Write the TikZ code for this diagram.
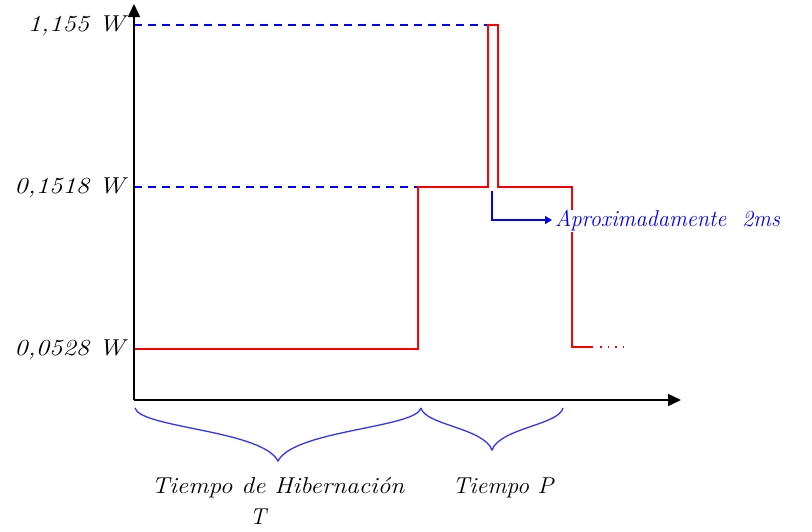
\documentclass[tikz,border=0pt]{standalone}
\usepackage{fontspec}
\usetikzlibrary{arrows.meta}
\begin{document}
\begin{tikzpicture}[x=1pt,y=-1pt,
  axis/.style={line width=1.6pt,-{Triangle[length=13pt,width=12pt]}},
  level/.style={blue,line width=1.6pt,dash pattern=on 8pt off 6pt},
  signal/.style={red,line width=1.4pt},
  brc/.style={blue!80!white,line width=1.3pt},
  lbl/.style={font=\fontsize{23}{26}\selectfont\itshape,inner sep=1pt},
  note/.style={font=\fontsize{23}{26}\selectfont\itshape,text=blue,fill=white,inner sep=1pt}]
\useasboundingbox (0,0) rectangle (812,531);
% origin and axes
\coordinate (O) at (134,400);
\coordinate (Ytop) at (134,4);
\coordinate (Xend) at (681,400);
% levels
\coordinate (Lhi) at (134,25);
\coordinate (Lmid) at (134,187);
\coordinate (Llo) at (134,349);
% signal corners
\coordinate (s1) at (418,349);
\coordinate (s2) at (418,187);
\coordinate (s3) at (488,187);
\coordinate (s4) at (488,25);
\coordinate (s5) at (498,25);
\coordinate (s6) at (498,187);
\coordinate (s7) at (572,187);
\coordinate (s8) at (572,347);
\coordinate (s9) at (593,347);
\coordinate (s10) at (626,347);
% dashed guides
\draw[level] (Lhi) -- (s4);
\draw[level] (Lmid) -- (s2);
% signal
\draw[signal] (Llo) -- (s1) -- (s2) -- (s3) -- (s4) -- (s5) -- (s6) -- (s7) -- (s8) -- (s9);
\draw[red,line width=1.4pt,dash pattern=on 1.5pt off 6pt] (600,347) -- (s10);
% annotation
\coordinate (a0) at (492,191);
\coordinate (a1) at (492,220);
\coordinate (a2) at (552,220);
\node[note,anchor=west,xscale=0.97] (apx) at (554,221) {Aproximadamente\ \ 2ms};
\draw[blue,line width=1.4pt,-{Triangle[length=7pt,width=8pt]}] (a0) -- (a1) -- (a2);
% axes
\draw[axis] (O) -- (Ytop);
\draw[axis] (O) -- (Xend);
% y labels
\node[lbl,anchor=east,xscale=1.16] (t1) at (126,26) {1,155 W};
\node[lbl,anchor=east,xscale=1.16] (t2) at (126,188) {0,1518 W};
\node[lbl,anchor=east,xscale=1.16] (t3) at (126,350) {0,0528 W};
% braces
\coordinate (b0) at (135,408);
\coordinate (b1) at (278,461);
\coordinate (b2) at (421,408);
\coordinate (b3) at (492,450);
\coordinate (b4) at (563,408);
\draw[brc] (b0) .. controls (140,428) and (262,430) .. (b1)
  .. controls (294,430) and (416,428) .. (b2);
\draw[brc] (b2) .. controls (425,425) and (484,428) .. (b3)
  .. controls (500,428) and (559,425) .. (b4);
% brace labels
\node[lbl,xscale=1.1] (hib) at (278,488) {Tiempo de Hibernación};
\node[lbl] (tT) at (258,517) {T};
\node[lbl,xscale=1.04] (tP) at (503,488) {Tiempo P};
\end{tikzpicture}
\end{document}
